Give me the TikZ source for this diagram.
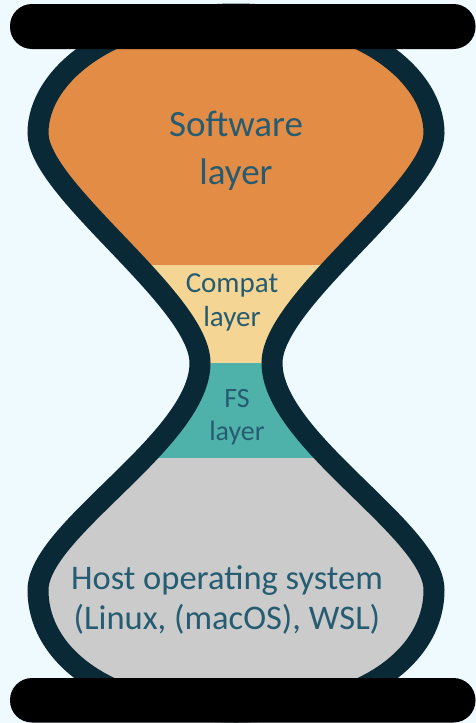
\documentclass[tikz,border=0pt]{standalone}
\usepackage{fontspec}
\setmainfont{Carlito}

\definecolor{paper}{HTML}{EEFAFF}
\definecolor{glassline}{HTML}{0A2936}
\definecolor{inktext}{HTML}{265C71}
\definecolor{softorange}{HTML}{E38C45}
\definecolor{compatyellow}{HTML}{F4D593}
\definecolor{fsteal}{HTML}{4FB2AA}
\definecolor{hostgrey}{HTML}{CBCBCB}

% outline of the glass, centre line of the stroke
\newcommand{\glassoutline}{%
  (236,14) .. controls (360,14) and (434,75) .. (434,133)
  .. controls (434,190) and (272,300) .. (272,363)
  .. controls (272,440) and (434,530) .. (434,590)
  .. controls (434,655) and (365,712) .. (236,712)
  .. controls (107,712) and (38,655) .. (38,590)
  .. controls (38,530) and (200,440) .. (200,363)
  .. controls (200,300) and (38,190) .. (38,133)
  .. controls (38,75) and (112,14) .. (236,14) -- cycle}

\begin{document}
\begin{tikzpicture}[x=1pt,y=-1pt,
    layertext/.style={text=inktext,align=center,inner sep=0pt},
    sandbar/.style={fill=black,rounded corners=22pt}]
  \useasboundingbox (0,0) rectangle (476,723);
  \fill[paper] (0,0) rectangle (476,723);
  %
  \begin{scope}
    \clip \glassoutline;
    \fill[softorange] (0,0) rectangle (476,265);
    \fill[compatyellow] (0,265) rectangle (476,363);
    \fill[fsteal] (0,363) rectangle (476,458);
    \fill[hostgrey] (0,458) rectangle (476,723);
  \end{scope}
  \draw[glassline,line width=21pt] \glassoutline;
  %
  \fill[sandbar] (10,4) rectangle (475.5,49);
  \fill[sandbar] (10,678) rectangle (475.5,722.5);
  %
  \node[layertext,font=\fontsize{37}{48}\selectfont] (software) at (236,151) {Software\\layer};
  \node[layertext,font=\fontsize{29}{34}\selectfont] (compat) at (232,302) {Compat\\layer};
  \node[layertext,font=\fontsize{28}{33}\selectfont] (fs) at (237,417) {FS\\layer};
  \node[layertext,font=\fontsize{34.5}{40}\selectfont] (host) at (227,600) {Host operating system\\(Linux, (macOS), WSL)};
\end{tikzpicture}
\end{document}
